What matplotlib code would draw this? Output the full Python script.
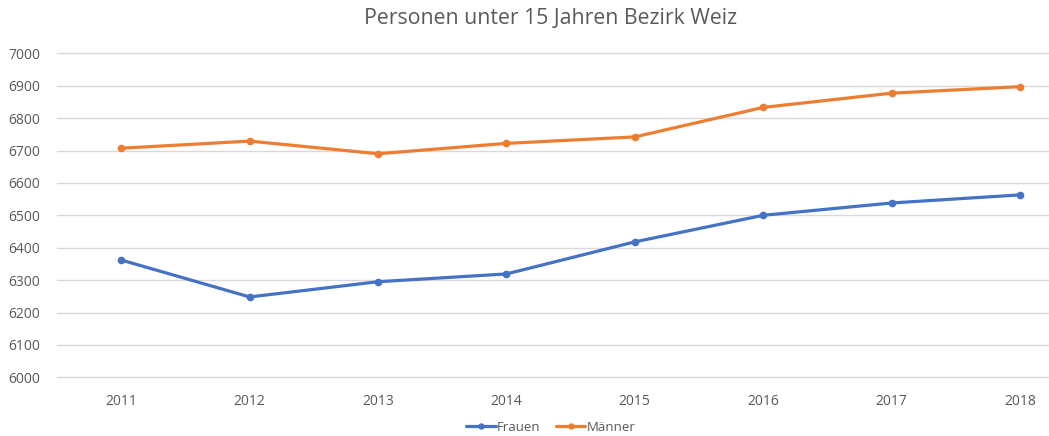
import matplotlib
matplotlib.use("Agg")
import matplotlib.pyplot as plt

years = ["2011", "2012", "2013", "2014", "2015", "2016", "2017", "2018"]
frauen = [6362, 6248, 6295, 6319, 6418, 6500, 6538, 6563]
maenner = [6707, 6729, 6690, 6722, 6742, 6833, 6877, 6897]
yticks = [6000, 6100, 6200, 6300, 6400, 6500, 6600, 6700, 6800, 6900, 7000]

plt.rcParams['font.family'] = ['Open Sans', 'DejaVu Sans']
txt = '#595959'

fig = plt.figure(figsize=(10.49, 4.36), dpi=100)
ax = fig.add_axes([57/1049, 1-377.3/436, 1-57/1049, (377.3-53.3)/436])

x = list(range(len(years)))
ax.plot(x, frauen, color='#4472C4', lw=2.3, marker='o', ms=4.5, label='Frauen', solid_capstyle='round')
ax.plot(x, maenner, color='#ED7D31', lw=2.3, marker='o', ms=4.5, label='Männer', solid_capstyle='round')

ax.set_ylim(6000, 7000)
ax.set_yticks(yticks)
ax.set_xlim(-0.5, 7 + 29/128.4)
ax.set_xticks(x)
ax.set_xticklabels(years)
ax.grid(axis='y', color='#D9D9D9', lw=1)
for gl in ax.get_ygridlines():
    gl.set_clip_on(False)
ax.set_axisbelow(True)
for s in ax.spines.values():
    s.set_visible(False)
ax.tick_params(axis='both', length=0, colors=txt, labelsize=10)
ax.tick_params(axis='y', pad=12)
ax.tick_params(axis='x', pad=12)

fig.text(551/1049, 1-19/436, 'Personen unter 15 Jahren Bezirk Weiz', ha='center', va='center',
         fontsize=15.3, color=txt)
leg = fig.legend(loc='center', bbox_to_anchor=(551/1049, 1-427/436), ncol=2, frameon=False,
                 fontsize=9.5, handlelength=2.2, handletextpad=0.1, columnspacing=1.2, labelcolor=txt,
                 markerscale=0.8)
fig.savefig('out.png', dpi=100)
